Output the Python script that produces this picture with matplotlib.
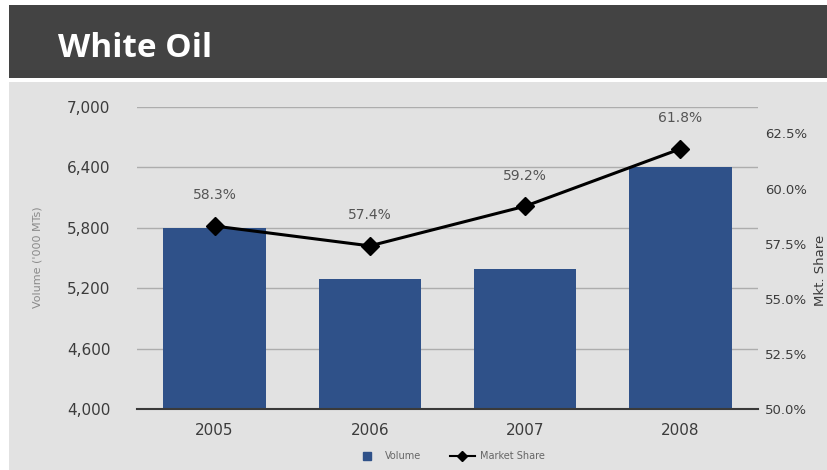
import matplotlib
matplotlib.use('Agg')
import matplotlib.pyplot as plt
from matplotlib.patches import Rectangle
from matplotlib.lines import Line2D
from matplotlib.ticker import FuncFormatter

# Data
years = ['2005', '2006', '2007', '2008']
volume = [5800, 5290, 5390, 6400]
market_share = [58.3, 57.4, 59.2, 61.8]
volume_ticks = [4000, 4600, 5200, 5800, 6400, 7000]
share_ticks = [50.0, 52.5, 55.0, 57.5, 60.0, 62.5]

bar_color = '#2f5189'
text_color = '#3c3c3c'

fig = plt.figure(figsize=(8.27, 4.70), dpi=100, facecolor='white')
W, H = 827, 470

# Slide background and header band
fig.patches.append(Rectangle((9 / W, 0), 1, 388 / H, transform=fig.transFigure,
                             facecolor='#e2e2e2', edgecolor='none', zorder=-2))
fig.patches.append(Rectangle((9 / W, (H - 78) / H), 1, 73 / H, transform=fig.transFigure,
                             facecolor='#434343', edgecolor='none', zorder=-2))
fig.text(58 / W, 1 - 57 / H, 'White Oil', color='white', fontsize=24,
         fontweight='bold', family='Open Sans', va='baseline', ha='left')

ax = fig.add_axes([137 / W, (H - 409) / H, (758 - 137) / W, (409 - 107) / H])
ax.set_facecolor('none')
x = range(len(years))
ax.bar(x, volume, width=0.66, color=bar_color, zorder=2)
ax.set_xlim(-0.5, 3.5)
ax.set_ylim(4000, 7000)
ax.set_yticks(volume_ticks)
ax.yaxis.set_major_formatter(FuncFormatter(lambda v, p: f'{int(v):,}'))
ax.set_xticks(list(x))
ax.set_xticklabels(years)
ax.grid(axis='y', color='#adadad', linewidth=1, zorder=1)
ax.set_axisbelow(True)
for s in ['top', 'left', 'right']:
    ax.spines[s].set_visible(False)
ax.spines['bottom'].set_color('#3a3a3a')
ax.spines['bottom'].set_linewidth(1.5)
ax.spines['bottom'].set_zorder(3)
ax.tick_params(axis='y', length=0, pad=19, labelsize=11, labelcolor=text_color)
ax.tick_params(axis='x', length=0, pad=10, labelsize=11, labelcolor=text_color)
fig.text(37 / W, 1 - 257 / H, "Volume ('000 MTs)", rotation=90, fontsize=8,
         color='#8a8a8a', ha='center', va='center')

# Market share line on secondary axis
ax2 = ax.twinx()
ax2.plot(x, market_share, color='black', linewidth=2.2, marker='D',
         markersize=9, zorder=4)
ax2.set_ylim(50, 63.7)
ax2.set_yticks(share_ticks)
ax2.yaxis.set_major_formatter(FuncFormatter(lambda v, p: f'{v:.1f}%'))
for s in ['top', 'left', 'right', 'bottom']:
    ax2.spines[s].set_visible(False)
ax2.tick_params(axis='y', length=0, pad=5, labelsize=9.5, labelcolor=text_color)
fig.text(821 / W, 1 - 270 / H, 'Mkt. Share', rotation=90, fontsize=9.5,
         color=text_color, ha='center', va='center')
for xi, v in zip(x, market_share):
    ax2.annotate(f'{v}%', (xi, v), xytext=(0, 17), textcoords='offset points',
                 ha='center', va='bottom', fontsize=10, color='#555555')

# Legend
handles = [Line2D([], [], marker='s', linestyle='none', color=bar_color, markersize=6),
           Line2D([], [], marker='D', color='black', linewidth=1.5, markersize=5)]
fig.legend(handles, ['Volume', 'Market Share'], loc='center',
           bbox_to_anchor=(450 / W, 1 - 456 / H), ncol=2, frameon=False,
           fontsize=7, labelcolor='#666666', handlelength=2.5, columnspacing=3,
           handletextpad=0.6)

fig.savefig('out.png', dpi=100, facecolor='white')
